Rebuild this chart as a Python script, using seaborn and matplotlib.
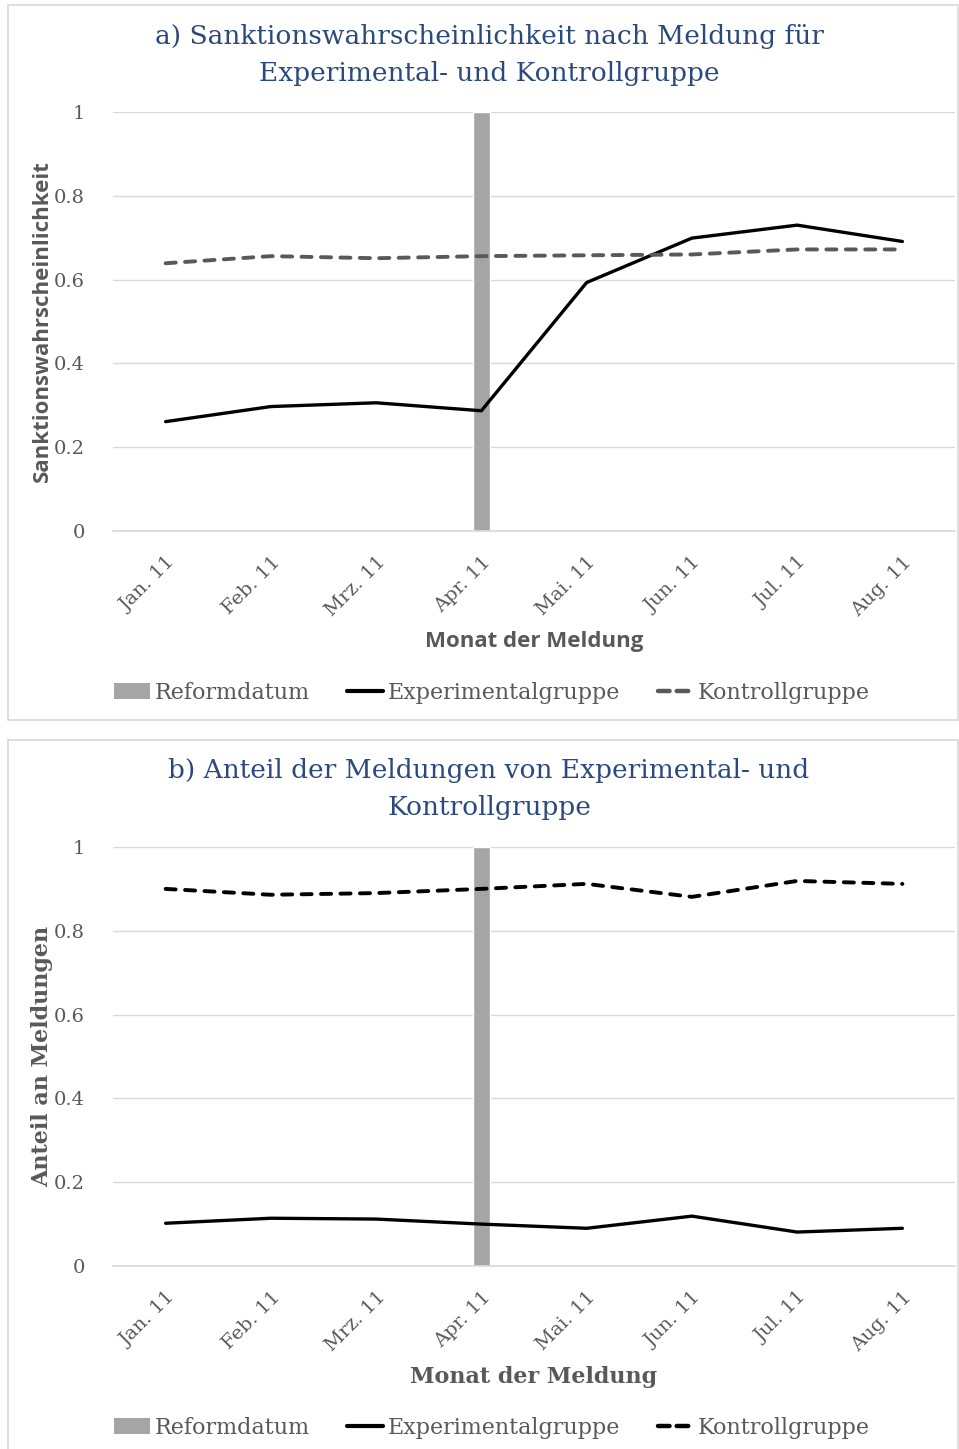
import matplotlib
matplotlib.use("Agg")
import matplotlib.pyplot as plt
from matplotlib.patches import Rectangle, Patch
from matplotlib.lines import Line2D
from matplotlib.ticker import FixedLocator
import seaborn as sns
import pandas as pd

sns.set_theme(style="white")
SERIF = ["DejaVu Serif", "Liberation Serif"]
plt.rcParams["font.family"] = SERIF
plt.rcParams["lines.dash_capstyle"] = "round"

# --- Data ---
months = ["Jan. 11", "Feb. 11", "Mrz. 11", "Apr. 11",
          "Mai. 11", "Jun. 11", "Jul. 11", "Aug. 11"]
reform_month = "Apr. 11"

sank_exp = [0.261, 0.297, 0.306, 0.287, 0.593, 0.699, 0.730, 0.691]
sank_kon = [0.639, 0.656, 0.651, 0.656, 0.658, 0.660, 0.672, 0.672]

anteil_exp = [0.102, 0.114, 0.112, 0.100, 0.090, 0.119, 0.081, 0.090]
anteil_kon = [0.900, 0.886, 0.890, 0.900, 0.912, 0.881, 0.919, 0.912]

yticks = [0, 0.2, 0.4, 0.6, 0.8, 1]
ytick_labels = ["0", "0.2", "0.4", "0.6", "0.8", "1"]

TITLE_C = "#2a4a7f"
TEXT_C = "#595959"
GRID_C = "#d9d9d9"
BAR_C = "#a5a5a5"

W, H = 959, 1449
fig = plt.figure(figsize=(W / 100, H / 100), dpi=100)


def px_axes(left, top, right, bottom):
    return fig.add_axes([left / W, 1 - bottom / H, (right - left) / W, (bottom - top) / H])


def panel(top, bottom, ax_top, title, exp, kon, kon_color, ylab, label_family, title_y):
    # frame around the panel
    fig.patches.append(Rectangle((8 / W, 1 - bottom / H), 950 / W, (bottom - top) / H,
                                 transform=fig.transFigure, fill=False,
                                 edgecolor=GRID_C, linewidth=1.2))
    ax_h = 419
    ax = px_axes(113, ax_top, 955, ax_top + ax_h)

    pos = list(range(len(months)))
    df = pd.DataFrame({"pos": pos * 2,
                       "Wert": exp + kon,
                       "Gruppe": ["Experimentalgruppe"] * 8 + ["Kontrollgruppe"] * 8})

    ax.bar(months.index(reform_month), 1, width=0.16, color=BAR_C, zorder=2)
    sns.lineplot(data=df, x="pos", y="Wert", hue="Gruppe", style="Gruppe", size="Gruppe",
                 palette={"Experimentalgruppe": "black", "Kontrollgruppe": kon_color},
                 dashes={"Experimentalgruppe": "", "Kontrollgruppe": (2.6, 2.4)},
                 sizes={"Experimentalgruppe": 2.4, "Kontrollgruppe": 2.8},
                 legend=False, ax=ax, zorder=3)

    ax.set_xlim(-0.5, len(months) - 0.5)
    ax.set_ylim(0, 1)
    ax.set_xticks(pos)
    ax.set_xticklabels(months)
    ax.set_yticks(yticks)
    ax.set_yticklabels(ytick_labels)
    ax.grid(True, axis="y", color=GRID_C, linewidth=1)
    ax.set_axisbelow(True)
    for s in ["top", "right", "left"]:
        ax.spines[s].set_visible(False)
    ax.spines["bottom"].set_color(GRID_C)
    ax.spines["bottom"].set_linewidth(1.2)

    ax.xaxis.set_minor_locator(FixedLocator([i - 0.5 for i in range(len(months) + 1)]))
    ax.tick_params(axis="x", which="minor", direction="in", length=7, color=GRID_C, width=1)
    ax.tick_params(axis="x", which="major", length=0, pad=16)
    ax.tick_params(axis="y", length=0, pad=20, labelsize=14, labelcolor=TEXT_C)
    for lbl in ax.get_xticklabels():
        lbl.set_rotation(45)
        lbl.set_ha("right")
        lbl.set_rotation_mode("anchor")
        lbl.set_fontsize(14)
        lbl.set_color(TEXT_C)

    ax.set_xlabel("Monat der Meldung", fontsize=16, fontweight="bold", color=TEXT_C,
                  family=label_family)
    ax.xaxis.set_label_coords((534 - 113) / 842, -111 / ax_h)
    ax.set_ylabel(ylab, fontsize=16, fontweight="bold", color=TEXT_C,
                  family=label_family)
    ax.yaxis.set_label_coords(-(113 - 42) / 842, 0.5)
    ax.yaxis.label.set_va("center")
    ax.xaxis.label.set_va("center")

    fig.text(489 / W, 1 - title_y / H, title, ha="center", va="center",
             fontsize=19, color=TITLE_C, linespacing=1.6)

    handles = [Patch(facecolor=BAR_C, edgecolor="none"),
               Line2D([], [], color="black", linewidth=3),
               Line2D([], [], color=kon_color, linewidth=3.2, dashes=(2.6, 1.6),
                      dash_capstyle="round")]
    fig.legend(handles, ["Reformdatum", "Experimentalgruppe", "Kontrollgruppe"],
               loc="center", bbox_to_anchor=(492 / W, 1 - (ax_top + 581) / H),
               ncol=3, frameon=False, fontsize=16, handlelength=1.6,
               handletextpad=0.2, columnspacing=1.7, labelcolor=TEXT_C)
    return ax


panel(5, 720, 112,
      "a) Sanktionswahrscheinlichkeit nach Meldung für\nExperimental- und Kontrollgruppe",
      sank_exp, sank_kon, "#595959", "Sanktionswahrscheinlichkeit",
      ["Open Sans", "DejaVu Sans"], 55)
panel(740, 1460, 847,
      "b) Anteil der Meldungen von Experimental- und\nKontrollgruppe",
      anteil_exp, anteil_kon, "black", "Anteil an Meldungen",
      SERIF, 789)

fig.savefig("out.png", dpi=100, facecolor="white")
